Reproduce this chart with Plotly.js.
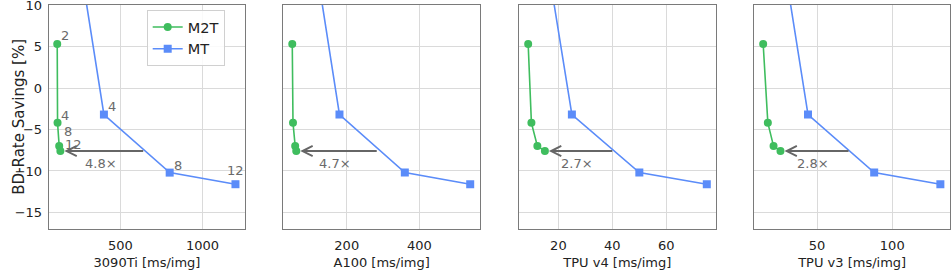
<!DOCTYPE html>
<html>
<head>
<meta charset="utf-8">
<script src="https://cdn.plot.ly/plotly-3.0.1.min.js"></script>
<style>html,body{margin:0;padding:0;background:#fff;}#chart{width:951px;height:272px;}</style>
</head>
<body>
<div id="chart"></div>
<script>
// ---- data ----
const devices = ['3090Ti', 'A100', 'TPU v4', 'TPU v3'];
const xTitles = ['3090Ti [ms/img]', 'A100 [ms/img]', 'TPU v4 [ms/img]', 'TPU v3 [ms/img]'];
const yTitle = 'BD-Rate Savings [%]';
const stageLabels = ['2', '4', '8', '12'];
const m2tY = [5.3, -4.2, -7.0, -7.6];
const mtY = [22, -3.2, -10.2, -11.6];
const m2tX_3090Ti = [116, 118, 128, 135];
const mtX_3090Ti = [200, 400, 800, 1200];
const m2tX_A100 = [50, 52, 58, 61];
const mtX_A100 = [90, 180, 360, 540];
const m2tX_TPUv4 = [8.8, 10.0, 12.2, 15.0];
const mtX_TPUv4 = [12.5, 25, 50, 75];
const m2tX_TPUv3 = [14.2, 17.3, 21.1, 25.7];
const mtX_TPUv3 = [22, 44, 88, 132];
const speedups = [4.8, 4.7, 2.7, 2.8];
const speedupLabels = ['4.8×', '4.7×', '2.7×', '2.8×'];
const xTickVals = [[500, 1000], [200, 400], [20, 40, 60], [50, 100]];
const yTickVals = [-15, -10, -5, 0, 5, 10];

// ---- styling / layout ----
const m2tX = [m2tX_3090Ti, m2tX_A100, m2tX_TPUv4, m2tX_TPUv3];
const mtX = [mtX_3090Ti, mtX_A100, mtX_TPUv4, mtX_TPUv3];
const xRanges = [[66, 1258], [25.3, 567], [5.4, 78.3], [8.3, 138.4]];
const domainsPx = [[49, 245], [283.3, 480], [519, 715.7], [754.3, 950]];
const W = 951, H = 272;
const GREEN = '#3fbd5e', BLUE = '#5b8cf9', GREY = '#6a6a6a';
const FONT = 'DejaVu Sans, sans-serif';

const traces = [];
const annotations = [];
const layout = {
  width: W, height: H, autosize: false,
  margin: {l: 0, r: 0, t: 0, b: 0},
  paper_bgcolor: '#fff', plot_bgcolor: '#fff',
  font: {family: FONT, size: 13, color: '#222'},
  showlegend: true,
  legend: {
    x: 146.7 / W, y: 1 - 10 / H, xanchor: 'left', yanchor: 'top',
    bgcolor: 'rgba(255,255,255,0.85)', bordercolor: '#d0d0d0', borderwidth: 1,
    tracegroupgap: 0,
    font: {family: FONT, size: 14.5, color: '#222'}
  },
  annotations: annotations
};

for (let i = 0; i < 4; i++) {
  const sfx = i === 0 ? '' : String(i + 1);
  const xa = 'x' + sfx, ya = 'y' + sfx;
  traces.push({
    x: m2tX[i], y: m2tY, xaxis: xa, yaxis: ya, name: 'M2T', type: 'scatter',
    mode: 'lines+markers', showlegend: i === 0, legendgroup: 'm2t',
    line: {color: GREEN, width: 1.6}, marker: {color: GREEN, size: 8, symbol: 'circle'}
  });
  traces.push({
    x: mtX[i], y: mtY, xaxis: xa, yaxis: ya, name: 'MT', type: 'scatter',
    mode: 'lines+markers', showlegend: i === 0, legendgroup: 'mt',
    line: {color: BLUE, width: 1.6}, marker: {color: BLUE, size: 8, symbol: 'square'}
  });
  const d = domainsPx[i];
  layout['xaxis' + sfx] = {
    domain: [d[0] / W, d[1] / W], anchor: ya, range: xRanges[i],
    tickvals: xTickVals[i], ticks: '', showgrid: true, gridcolor: '#dadada', gridwidth: 1,
    zeroline: false, showline: true, mirror: true, linecolor: '#7a7a7a', linewidth: 1.3,
    tickfont: {family: FONT, size: 13, color: '#222'}, ticklabelstandoff: 4,
    ticklabeloverflow: 'allow',
    title: {text: xTitles[i], font: {family: FONT, size: 13, color: '#222'}, standoff: 6}
  };
  layout['yaxis' + sfx] = {
    domain: [1 - 229 / H, 1 - 5 / H], anchor: xa, range: [-17, 10.01],
    tickvals: yTickVals, ticks: '', showgrid: true, gridcolor: '#dadada', gridwidth: 1,
    zeroline: false, showline: true, mirror: true, linecolor: '#7a7a7a', linewidth: 1.3,
    showticklabels: i === 0, tickfont: {family: FONT, size: 13, color: '#222'}, ticklabelstandoff: 3,
    ticklabeloverflow: 'allow'
  };

  // speed-up arrow from MT curve to last M2T point
  const last = m2tX[i].length - 1;
  const tipX = m2tX[i][last], tipY = m2tY[last];
  const tailX = tipX * speedups[i];
  annotations.push({
    xref: xa, yref: ya, axref: xa, ayref: ya,
    x: tipX, y: tipY, ax: tailX, ay: tipY, text: '',
    showarrow: true, arrowhead: 5, arrowsize: 1, arrowwidth: 2, arrowcolor: '#666',
    standoff: 4
  });
  annotations.push({
    xref: xa, yref: ya, x: (tipX + tailX) / 2, y: tipY, text: speedupLabels[i],
    showarrow: false, xanchor: 'center', yanchor: 'middle', yshift: -12, xshift: -2,
    font: {family: FONT, size: 13, color: GREY}
  });
}

// y-axis title (shared, placed beside the first panel)
annotations.push({
  xref: 'paper', yref: 'paper', x: 18.7 / W, y: 1 - 117 / H, text: yTitle,
  textangle: -90, showarrow: false, xanchor: 'center', yanchor: 'middle',
  font: {family: FONT, size: 15, color: '#222'}
});

// point labels on first panel (label-centre offsets in px)
const m2tShift = [[7.7, 8.3], [7.7, 7.6], [8.5, 14.5], [12.8, 7.0]];
const mtShift = [[8, 7.6], [8, 7.6], [8.2, 7.3], [-0.3, 13.8]];
for (let k = 0; k < stageLabels.length; k++) {
  if (m2tY[k] <= 10) annotations.push({
    xref: 'x', yref: 'y', x: m2tX_3090Ti[k], y: m2tY[k], text: stageLabels[k], showarrow: false,
    xanchor: 'center', yanchor: 'middle', xshift: m2tShift[k][0], yshift: m2tShift[k][1],
    font: {family: FONT, size: 13, color: GREY}
  });
  if (mtY[k] <= 10) annotations.push({
    xref: 'x', yref: 'y', x: mtX_3090Ti[k], y: mtY[k], text: stageLabels[k], showarrow: false,
    xanchor: 'center', yanchor: 'middle', xshift: mtShift[k][0], yshift: mtShift[k][1],
    font: {family: FONT, size: 13, color: GREY}
  });
}

Plotly.newPlot('chart', traces, layout, {staticPlot: true, displayModeBar: false});
</script>
</body>
</html>
